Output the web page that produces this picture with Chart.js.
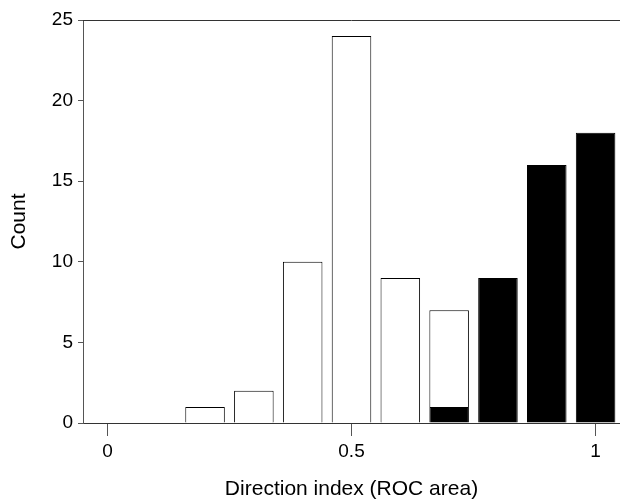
<!DOCTYPE html>
<html>
<head>
<meta charset="UTF-8">
<title>Direction index histogram</title>
<script src="https://cdn.jsdelivr.net/npm/chart.js"></script>
<style>
    html, body { margin: 0; padding: 0; background: #fff; }
    #wrap { width: 620px; height: 500px; }
</style>
</head>
<body>
<div id="wrap"><canvas id="hist"></canvas></div>
<script>
    // bin centres (ROC area) and counts
    const binCenters = [0.2, 0.3, 0.4, 0.5, 0.6, 0.7, 0.8, 0.9, 1.0];
    const openCounts = [1, 2, 10, 24, 9, 6, 0, 0, 0];   // white part
    const filledCounts = [0, 0, 0, 0, 0, 1, 9, 16, 18]; // black part
    const xTicks = [0, 0.5, 1];
    const yTicks = [0, 5, 10, 15, 20, 25];

    const toPoints = arr => binCenters.map((x, i) => ({ x: x, y: arr[i] }));

    // thin frame line on top of the plot
    const topLine = {
        id: 'topLine',
        afterDraw(chart) {
            const a = chart.chartArea, c = chart.ctx;
            c.save();
            c.strokeStyle = '#333';
            c.lineWidth = 1;
            c.beginPath();
            c.moveTo(a.left, a.top + 0.5);
            c.lineTo(a.right, a.top + 0.5);
            c.stroke();
            c.restore();
        }
    };

    const family = "'Liberation Sans', Arial, sans-serif";
    const tickFont = { family: family, size: 19 };
    const titleFont = { family: family, size: 21, lineHeight: 1 };

    new Chart(document.getElementById('hist'), {
        type: 'bar',
        data: {
            datasets: [{
                data: toPoints(filledCounts),
                backgroundColor: '#000',
                borderColor: '#000',
                borderWidth: 1
            }, {
                data: toPoints(openCounts),
                backgroundColor: '#fff',
                borderColor: '#000',
                borderWidth: 1
            }]
        },
        options: {
            responsive: true,
            maintainAspectRatio: false,
            animation: false,
            barPercentage: 1,
            categoryPercentage: 0.81,
            layout: { padding: { top: 20, right: 0, left: 0, bottom: 0 } },
            plugins: { legend: { display: false }, tooltip: { enabled: false } },
            scales: {
                x: {
                    type: 'linear',
                    stacked: true,
                    offset: false,
                    min: -0.05,
                    max: 1.05,
                    afterBuildTicks: s => { s.ticks = xTicks.map(v => ({ value: v })); },
                    afterFit: s => { s.height = 77; },
                    grid: { drawOnChartArea: false, offset: false, tickLength: 13, color: '#555' },
                    border: { color: '#333' },
                    ticks: { color: '#000', font: tickFont, padding: 4, maxRotation: 0, callback: v => String(v) },
                    title: {
                        display: true,
                        text: 'Direction index (ROC area)',
                        color: '#000',
                        font: titleFont,
                        padding: { top: 0, bottom: 0 }
                    }
                },
                y: {
                    stacked: true,
                    min: 0,
                    max: 25,
                    afterBuildTicks: s => { s.ticks = yTicks.map(v => ({ value: v })); },
                    afterFit: s => { s.width = 83; },
                    grid: { drawOnChartArea: false, tickLength: 5, color: '#555' },
                    border: { color: '#555' },
                    ticks: { color: '#000', font: tickFont, padding: 5 },
                    title: {
                        display: true,
                        text: 'Count',
                        color: '#000',
                        font: titleFont,
                        padding: { top: 9, bottom: 0 }
                    }
                }
            }
        },
        plugins: [topLine]
    });
</script>
</body>
</html>
